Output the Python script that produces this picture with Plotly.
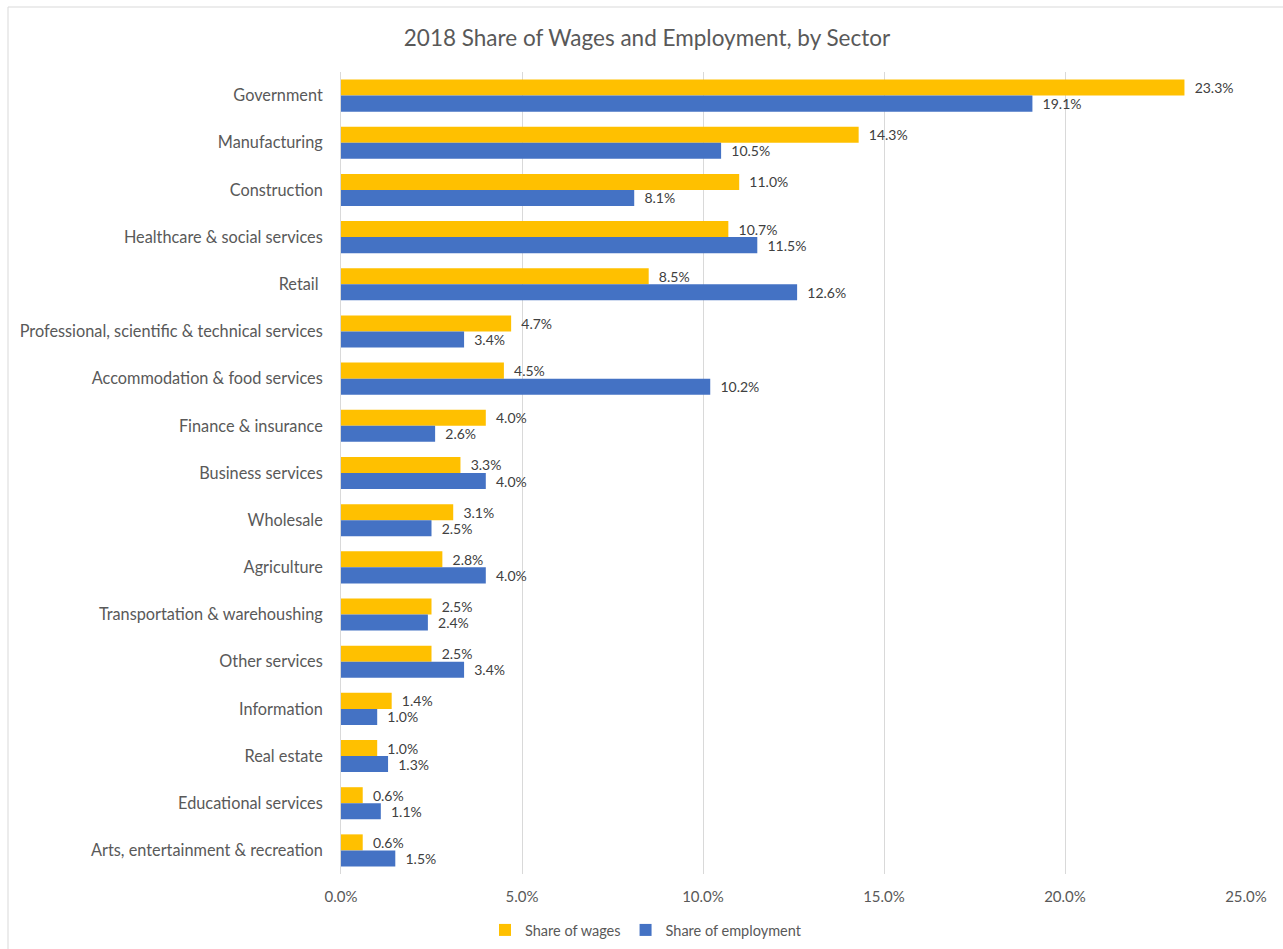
import plotly.graph_objects as go

# Sector shares, 2018 (fractions of total)
sectors = [
    "Government",
    "Manufacturing",
    "Construction",
    "Healthcare & social services",
    "Retail ",
    "Professional, scientific & technical services",
    "Accommodation & food services",
    "Finance & insurance",
    "Business services",
    "Wholesale",
    "Agriculture",
    "Transportation & warehoushing",
    "Other services",
    "Information",
    "Real estate",
    "Educational services",
    "Arts, entertainment & recreation",
]
share_of_wages = [0.233, 0.143, 0.110, 0.107, 0.085, 0.047, 0.045, 0.040, 0.033,
                  0.031, 0.028, 0.025, 0.025, 0.014, 0.010, 0.006, 0.006]
share_of_employment = [0.191, 0.105, 0.081, 0.115, 0.126, 0.034, 0.102, 0.026, 0.040,
                       0.025, 0.040, 0.024, 0.034, 0.010, 0.013, 0.011, 0.015]
x_ticks = [0.0, 0.05, 0.10, 0.15, 0.20, 0.25]

FONT = "Lato"
TEXT = "#595959"
W, H = 1283, 949
L, R, T, B = 341, 37, 72, 75

# leading spaces push the value labels a little away from the bar ends
LABEL = "\u00a0\u00a0%{x:.1%}"

fig = go.Figure()
fig.add_trace(go.Bar(
    y=sectors, x=share_of_wages, orientation="h", name="Share of wages",
    marker=dict(color="#FFC000", line=dict(width=0)),
    texttemplate=LABEL, textposition="outside", cliponaxis=False,
    constraintext="none",
    textfont=dict(family=FONT, size=14, color="#404040"),
))
fig.add_trace(go.Bar(
    y=sectors, x=share_of_employment, orientation="h", name="Share of employment",
    marker=dict(color="#4472C4", line=dict(width=0)),
    texttemplate=LABEL, textposition="outside", cliponaxis=False,
    constraintext="none",
    textfont=dict(family=FONT, size=14, color="#404040"),
))

pw = W - L - R
ph = H - T - B
fig.add_shape(
    type="rect", xref="paper", yref="paper",
    x0=(8 - L) / pw, x1=(W + 20 - L) / pw,
    y0=(H - B - (H + 20)) / ph, y1=(H - B - 7) / ph,
    line=dict(color="#D9D9D9", width=1), fillcolor="rgba(0,0,0,0)", layer="below",
)

fig.update_layout(
    width=W, height=H,
    margin=dict(l=L, r=R, t=T, b=B, autoexpand=False),
    paper_bgcolor="white", plot_bgcolor="white",
    barmode="group", bargap=0.32, bargroupgap=0,
    font=dict(family=FONT, color=TEXT),
    title=dict(
        text="2018 Share of Wages and Employment, by Sector",
        font=dict(family=FONT, size=22.5, color=TEXT),
        x=647 / W, xanchor="center", xref="container",
        y=1 - 38 / H, yanchor="middle", yref="container",
    ),
    xaxis=dict(
        range=[0, 0.25], tickvals=x_ticks, tickformat=".1%",
        showgrid=True, gridcolor="#D9D9D9", gridwidth=1,
        zeroline=False, showline=False, ticks="",
        tickfont=dict(family=FONT, size=15, color=TEXT),
        ticklabelstandoff=12, automargin=False,
    ),
    yaxis=dict(
        autorange="reversed", showgrid=False, zeroline=False,
        showline=True, linecolor="#D9D9D9", linewidth=1, ticks="",
        tickfont=dict(family=FONT, size=16.3, color=TEXT),
        ticklabelstandoff=14, automargin=False,
    ),
    legend=dict(
        orientation="h", xref="container", yref="container",
        x=646 / W, xanchor="center", y=1 - 930 / H, yanchor="middle",
        font=dict(family=FONT, size=14.5, color=TEXT),
        itemwidth=30, traceorder="normal",
    ),
    showlegend=True,
)

fig.write_html("out.html")
